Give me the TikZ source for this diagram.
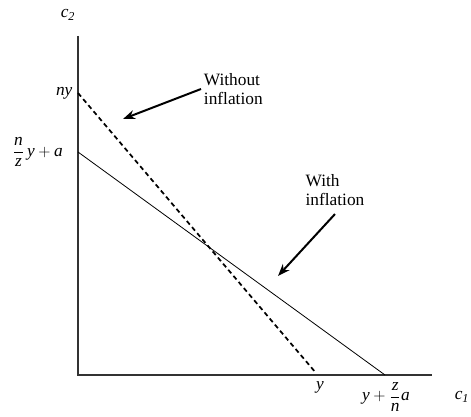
\documentclass[tikz,border=0pt]{standalone}
\usepackage{amsmath}
\usepackage{fontspec}
\setmainfont{Liberation Serif}
\usetikzlibrary{positioning,arrows.meta}
\newcommand{\mv}[1]{\textit{#1}}

\begin{document}
\begin{tikzpicture}[
    x=0.75pt, y=-0.75pt,
    every node/.style={font=\fontsize{13}{14.5}\selectfont},
    axis/.style={line width=1.1pt, draw=black!80},
    budget/.style={line width=0.6pt},
    nobudget/.style={line width=1.3pt, dash pattern=on 3.5pt off 2.5pt},
    ptr/.style={-{Stealth[length=3.2mm, width=2.4mm]}, line width=1.5pt},
    note/.style={align=left, inner sep=2pt}
]
\useasboundingbox (0,0) rectangle (471,417);

% axes
\coordinate (O) at (78,375);
\coordinate (ytop) at (78,36);
\coordinate (xend) at (432,375);
\draw[axis] (ytop) -- (O) -- (xend);

\node (ctwo) at (68,15) {$\mv{c}_{\mv{2}}$};
\node (cone) at (462,397) {$\mv{c}_{\mv{1}}$};

% intercepts
\coordinate (ny) at (78,93);
\coordinate (yint) at (316,373);
\coordinate (nza) at (78,152);
\coordinate (yza) at (385,375);

\node[anchor=east, inner sep=4pt] (nylab) at (ny) {\mv{ny}};
\node[anchor=east, inner sep=0pt] (nzalab) at (63,152) {$\dfrac{\mv{n}}{\mv{z}}\,\mv{y}+\mv{a}$};
\node (ylab) at (320,387) {\mv{y}};
\node (yzalab) at (386,397) {$\mv{y}+\dfrac{\mv{z}}{\mv{n}}\mv{a}$};

% budget lines
\draw[nobudget] (ny) -- (yint);
\draw[budget] (nza) -- (yza);

% labels with arrows
\node[note, anchor=west] (woinf) at (201,89) {Without\\inflation};
\coordinate (wotip) at (123,119);
\draw[ptr] (woinf.west) -- (wotip);

\node[note] (winf) at (335,190) {With\\inflation};
\coordinate (wtip) at (278,276);
\draw[ptr] ([yshift=-4pt]winf.south) -- (wtip);

\end{tikzpicture}
\end{document}
